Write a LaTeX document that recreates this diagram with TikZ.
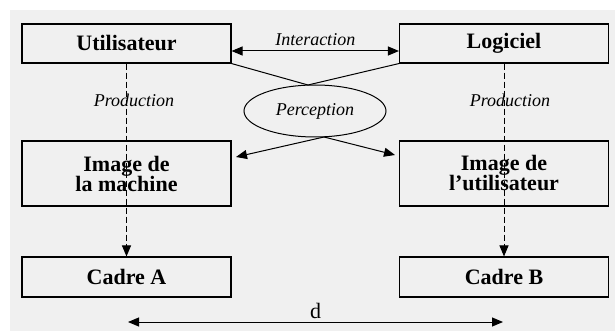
\documentclass[tikz,border=0pt]{standalone}
\usepackage{fontspec}
\setmainfont{Liberation Serif}
\usetikzlibrary{shapes.geometric}
\usetikzlibrary{arrows.meta}
\usetikzlibrary{calc}

\begin{document}
\begin{tikzpicture}[x=1pt,y=-1pt,
  boite/.style={draw,line width=1.1pt,minimum width=209pt,inner sep=0pt,
    font=\fontsize{22}{24}\selectfont\bfseries,align=center},
  etiq/.style={font=\fontsize{18}{20}\selectfont\itshape},
  fleche/.style={line width=1pt,-{Triangle[length=11pt,width=9pt]}},
  prod/.style={fleche,dash pattern=on 6pt off 3pt}]
\useasboundingbox (0,0) rectangle (615,331);
\fill[gray!12] (10,10) rectangle (615,331);
% boites du haut
\node[boite,minimum height=39pt] (user) at (126.5,43.5) {Utilisateur};
\node[boite,minimum height=39pt] (logi) at (504,43.5) {Logiciel};
% images
\node[boite,minimum height=65pt] (imgM) at (126.5,173.5) {Image de\\[-4pt]la machine};
\node[boite,minimum height=65pt] (imgU) at (504,173.5) {Image de\\[-4pt]l'utilisateur};
% cadres
\node[boite,minimum height=40pt] (cadA) at (126.5,277) {Cadre A};
\node[boite,minimum height=40pt] (cadB) at (504,277) {Cadre B};
% perception
\node[draw,ellipse,line width=1pt,minimum width=142pt,minimum height=52pt,inner sep=0pt,etiq] (perc) at (315,111) {Perception};
\coordinate (hX) at (308,85);
\coordinate (bX) at (324,137);
\coordinate (pU) at (395,155);
\coordinate (pM) at (236,157);
\draw[line width=1pt] (user.south east) -- (hX) -- (logi.south west);
\draw[fleche] (bX) -- (pU);
\draw[fleche] (bX) -- (pM);
% interaction
\draw[fleche,{Triangle[length=11pt,width=9pt]}-{Triangle[length=11pt,width=9pt]}] (user.east |- 0,51) -- (logi.west |- 0,51)
  node[midway,above=1pt,etiq] (inter) {Interaction};
% production
\draw[prod] (user) -- (cadA);
\draw[prod] (logi) -- (cadB);
\node[etiq] (prodA) at (134,100) {Production};
\node[etiq] (prodB) at (510,100) {Production};
% distance
\coordinate (dA) at (128,322);
\coordinate (dB) at (503,322);
\draw[fleche,{Triangle[length=11pt,width=9pt]}-{Triangle[length=11pt,width=9pt]}] (dA) -- (dB)
  node[midway,above=-1pt,font=\fontsize{22}{24}\selectfont] (d) {d};
\end{tikzpicture}
\end{document}
